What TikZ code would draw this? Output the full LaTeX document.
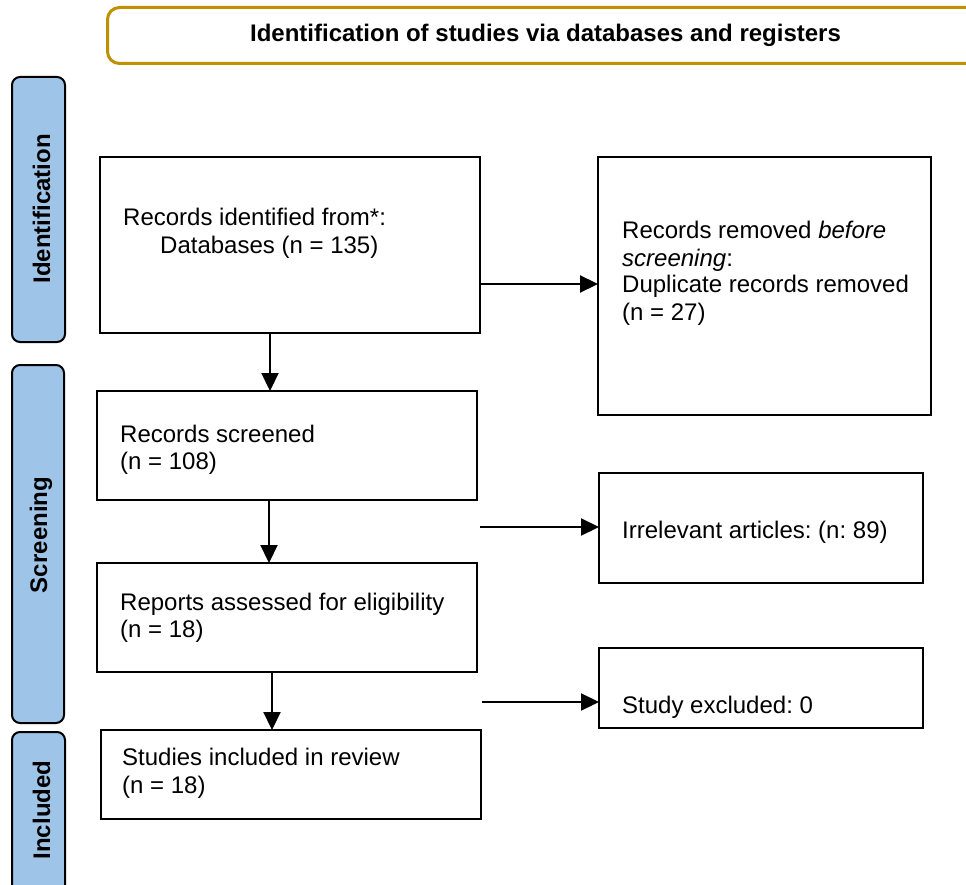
\documentclass[tikz,border=0pt]{standalone}
\usepackage{fontspec}
\setmainfont{Liberation Sans}
\usetikzlibrary{arrows.meta}
\definecolor{hdrgold}{RGB}{191,144,0}
\definecolor{phaseblue}{RGB}{158,196,231}
\frenchspacing
\begin{document}
\begin{tikzpicture}[x=1pt,y=-1pt,
  box/.style={draw=black, line width=2.6pt, fill=white, anchor=north west, inner sep=0pt, outer sep=0pt},
  txt/.style={anchor=base west, inner sep=0pt, font=\fontsize{24}{27}\selectfont},
  phasebar/.style={draw=black, line width=2pt, fill=phaseblue, rounded corners=8pt, anchor=north west, inner sep=0pt, outer sep=0pt},
  phaselbl/.style={rotate=90, anchor=base, inner sep=0pt, font=\bfseries\fontsize{24}{27}\selectfont},
  arr/.style={line width=2.2pt, -{Triangle[length=18pt,width=17pt]}}
]
\useasboundingbox (0,0) rectangle (966,885);
\clip (0,0) rectangle (966,885);

% header
\node[draw=hdrgold, line width=3pt, rounded corners=12pt, fill=white, anchor=north west,
      minimum width=876pt, minimum height=56pt, inner sep=0pt,
      font=\bfseries\fontsize{24}{27}\selectfont] (hdr) at (106,6)
      {Identification of studies via databases and registers};

% phase bars
\node[phasebar, minimum width=53pt, minimum height=265pt] (pid) at (12,77) {};
\node[phasebar, minimum width=52pt, minimum height=358pt] (psc) at (12,365) {};
\node[phasebar, minimum width=53pt, minimum height=180pt] (pin) at (12,732) {};
\node[phaselbl] (lid) at (50,209) {Identification};
\node[phaselbl] (lsc) at (47,535) {Screening};
\node[phaselbl] (lin) at (50,810) {Included};

% boxes
\node[box, minimum width=380pt, minimum height=176pt] (b1) at (100,157) {};
\node[box, minimum width=333pt, minimum height=258pt] (rem) at (598,157) {};
\node[box, minimum width=380pt, minimum height=109pt] (b2) at (97,391) {};
\node[box, minimum width=324pt, minimum height=110pt] (irr) at (599,473) {};
\node[box, minimum width=380pt, minimum height=109pt] (b3) at (97,563) {};
\node[box, minimum width=324pt, minimum height=80pt] (exc) at (599,648) {};
\node[box, minimum width=380pt, minimum height=89pt] (b4) at (101,730) {};

% texts
\node[txt] (t1a) at (123,226) {Records identified from*:};
\node[txt] (t1b) at (160,254) {Databases (n = 135)};
\node[txt] (tra) at (622,239) {Records removed \textit{before}};
\node[txt] (trb) at (622,266) {\textit{screening}:};
\node[txt] (trc) at (622,293) {Duplicate records removed};
\node[txt] (trd) at (622,320) {(n = 27)};
\node[txt] (t2a) at (120,442) {Records screened};
\node[txt] (t2b) at (120,469) {(n = 108)};
\node[txt] (tia) at (622,538) {Irrelevant articles: (n: 89)};
\node[txt] (t3a) at (120,610) {Reports assessed for eligibility};
\node[txt] (t3b) at (120,637) {(n = 18)};
\node[txt] (tea) at (622,713) {Study excluded: 0};
\node[txt] (t4a) at (122,765) {Studies included in review};
\node[txt] (t4b) at (122,793) {(n = 18)};

% connectors
\draw[arr] (b1.east |- 0,284) -- (rem.west |- 0,284);
\draw[arr] (b1.south -| 270,0) -- (b2.north -| 270,0);
\draw[arr] (b2.south -| 269,0) -- (b3.north -| 269,0);
\draw[arr] (b3.south -| 272,0) -- (b4.north -| 272,0);
\coordinate (s1) at (480,527);
\coordinate (s2) at (482,702);
\draw[arr] (s1) -- (irr.west |- s1);
\draw[arr] (s2) -- (exc.west |- s2);
\end{tikzpicture}
\end{document}
